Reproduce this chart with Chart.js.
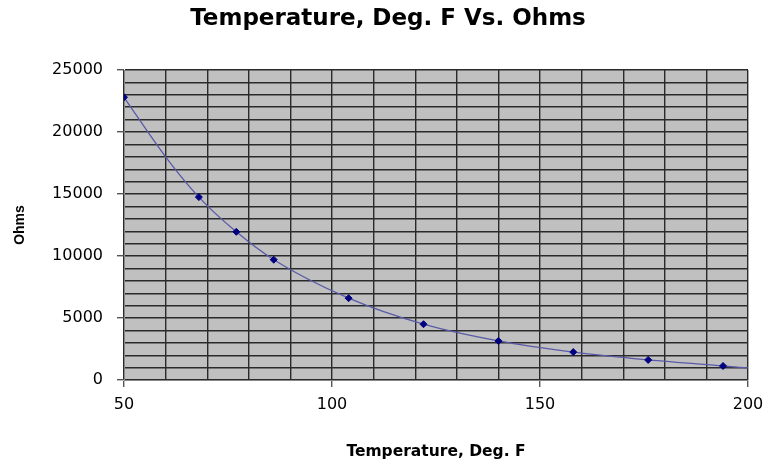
<!DOCTYPE html>
<html>
<head>
<meta charset="utf-8">
<script src="https://cdn.jsdelivr.net/npm/chart.js@4/dist/chart.umd.min.js"></script>
<style>
  body { margin: 0; background: #fff; }
  #wrap { width: 767px; height: 465px; }
</style>
</head>
<body>
<div id="wrap"><canvas id="myChart"></canvas></div>
<script>
// measured points, deg F vs ohms
let tempF = [50, 68, 77, 86, 104, 122, 140, 158, 176, 194];
let ohms = [22800, 14750, 11950, 9700, 6600, 4500, 3150, 2250, 1620, 1130];
// trend line
let trendF = [50, 60, 68, 77, 86, 104, 122, 140, 158, 176, 194, 200];
let trendOhms = [22800, 18000, 14750, 11950, 9700, 6600, 4500, 3150, 2250, 1620, 1130, 970];
let xTicks = [50, 100, 150, 200];
let yTicks = [0, 5000, 10000, 15000, 20000, 25000];
let chartTitle = 'Temperature, Deg. F Vs. Ohms';

const plotBg = {
    id: 'plotBg',
    beforeDraw(chart) {
        let a = chart.chartArea;
        let c = chart.ctx;
        c.save();
        c.fillStyle = '#c0c0c0';
        c.fillRect(a.left, a.top, a.right - a.left, a.bottom - a.top);
        c.restore();
    },
    afterDraw(chart) {
        // title sits a bit right of the canvas centre in the original
        let c = chart.ctx;
        c.save();
        c.font = 'bold 23px "DejaVu Sans", Verdana, sans-serif';
        c.fillStyle = '#000';
        c.textAlign = 'center';
        c.textBaseline = 'alphabetic';
        c.fillText(chartTitle, 388, 25);
        c.restore();
    }
};

let ctx = document.getElementById('myChart');
Chart.defaults.font.family = '"DejaVu Sans", Verdana, sans-serif';
Chart.defaults.color = '#000';

new Chart(ctx, {
    type: 'scatter',
    data: {
        datasets: [{
            data: trendF.map((t, i) => ({ x: t, y: trendOhms[i] })),
            showLine: true,
            borderColor: '#5a5aa8',
            borderWidth: 1.3,
            pointRadius: 0,
            cubicInterpolationMode: 'monotone',
            order: 2
        }, {
            data: tempF.map((t, i) => ({ x: t, y: ohms[i] })),
            pointStyle: 'rectRot',
            pointRadius: 3.5,
            backgroundColor: '#000080',
            borderColor: '#000080',
            order: 1
        }]
    },
    options: {
        responsive: true,
        maintainAspectRatio: false,
        animation: false,
        layout: { padding: { left: 0, right: 19, top: 70, bottom: 0 } },
        plugins: {
            legend: { display: false },
            tooltip: { enabled: false },
            title: { display: false }
        },
        scales: {
            x: {
                type: 'linear',
                min: 50,
                max: 200,
                afterFit: s => {
                    s.height = 85;
                    s.paddingRight = 0;
                    s.paddingLeft = 0;
                },
                ticks: {
                    stepSize: 10,
                    autoSkip: false,
                    maxRotation: 0,
                    font: { size: 16 },
                    padding: 8,
                    callback: v => xTicks.includes(v) ? v : ''
                },
                grid: {
                    color: '#2a2a2a',
                    lineWidth: 1.4,
                    tickLength: 7,
                    tickColor: c => xTicks.includes(c.tick.value) ? '#555' : 'rgba(0,0,0,0)'
                },
                border: { color: '#888' },
                title: {
                    display: true,
                    text: 'Temperature, Deg. F',
                    font: { size: 15.5, weight: 'bold' },
                    padding: { top: 31 }
                }
            },
            y: {
                min: 0,
                max: 25000,
                afterFit: s => { s.width = 124; },
                ticks: {
                    stepSize: 1000,
                    autoSkip: false,
                    font: { size: 16 },
                    padding: 14,
                    callback: v => yTicks.includes(v) ? v : ''
                },
                grid: {
                    color: '#2a2a2a',
                    lineWidth: 1.4,
                    tickLength: 7,
                    tickColor: c => yTicks.includes(c.tick.value) ? '#555' : 'rgba(0,0,0,0)'
                },
                border: { color: '#888' },
                title: {
                    display: true,
                    text: 'Ohms',
                    font: { family: '"Liberation Sans", Arial, sans-serif', size: 14, weight: 'bold' },
                    padding: { top: 12 }
                }
            }
        }
    },
    plugins: [plotBg]
});
</script>
</body>
</html>
